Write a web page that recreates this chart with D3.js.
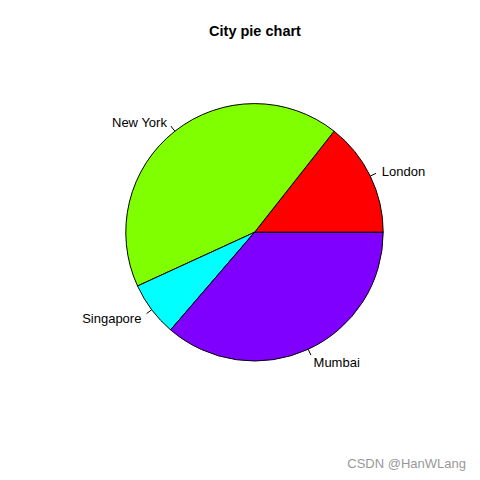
<!DOCTYPE html>
<html>
<head>
<meta charset="utf-8">
<script src="https://cdn.jsdelivr.net/npm/d3@7"></script>
<style>
  body { margin: 0; background: #fff; }
  text { font-family: "Liberation Sans", Arial, sans-serif; }
</style>
</head>
<body>
<div id="viz-container"></div>
<script>
// city data, as in the R example
const cities = ['London', 'New York', 'Singapore', 'Mumbai'];
const counts = [21, 62, 10, 53];
const colors = ['#FF0000', '#80FF00', '#00FFFF', '#8000FF'];

const viz = d3.select('#viz-container')
    .append('svg')
        .attr('width', 480)
        .attr('height', 480);

viz.append('rect').attr('width', 480).attr('height', 480).attr('fill', 'white');

viz.append('text')
    .attr('x', 255).attr('y', 36)
    .attr('text-anchor', 'middle')
    .attr('font-size', 14.5)
    .attr('font-weight', 'bold')
    .text('City pie chart');

const cx = 254.5, cy = 232.3, r = 128.7;

// R pie: counter-clockwise from 3 o'clock
const total = d3.sum(counts);
const ang = d3.scaleLinear().domain([0, total]).range([0, 2 * Math.PI]);
let cum = 0;
const slices = counts.map((v, i) => {
    const s = { name: cities[i], color: colors[i], a0: ang(cum), a1: ang(cum + v) };
    cum += v;
    return s;
});

const g = viz.append('g').attr('transform', `translate(${cx},${cy})`);

// d3.arc measures clockwise from 12 o'clock, convert
const arc = d3.arc().innerRadius(0).outerRadius(r);
g.selectAll('path').data(slices).enter()
    .append('path')
        .attr('d', d => arc({ startAngle: Math.PI / 2 - d.a1, endAngle: Math.PI / 2 - d.a0 }))
        .attr('fill', d => d.color)
        .attr('stroke', 'black')
        .attr('stroke-width', 1);

slices.forEach(d => {
    const m = (d.a0 + d.a1) / 2;
    const c = Math.cos(m), s = Math.sin(m);
    g.append('line')
        .attr('x1', r * c).attr('y1', -r * s)
        .attr('x2', 1.05 * r * c).attr('y2', -1.05 * r * s)
        .attr('stroke', 'black');
    g.append('text')
        .attr('x', 1.1 * r * c)
        .attr('y', -1.1 * r * s + 6)
        .attr('text-anchor', c > 0 ? 'start' : 'end')
        .attr('font-size', 13)
        .text(d.name);
});

viz.append('text')
    .attr('x', 466).attr('y', 468)
    .attr('text-anchor', 'end')
    .attr('font-size', 13)
    .attr('fill', '#999')
    .text('CSDN @HanWLang');
</script>
</body>
</html>
